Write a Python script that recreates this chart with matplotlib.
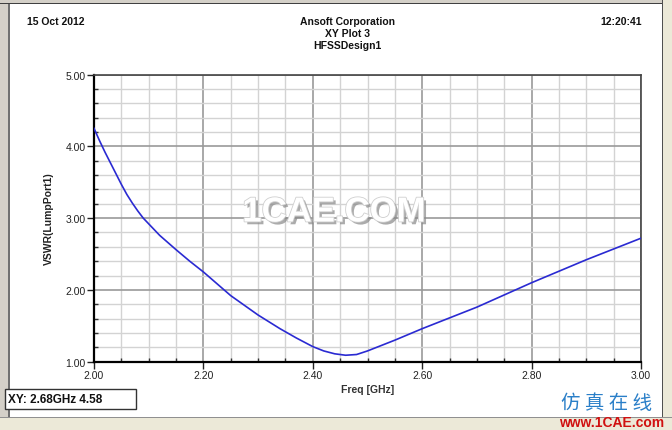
import matplotlib
matplotlib.use("Agg")
import matplotlib.pyplot as plt
from matplotlib.patches import Rectangle
from matplotlib.ticker import MultipleLocator, FormatStrFormatter
import matplotlib.patheffects as pe

plt.rcParams['font.family'] = ['Liberation Sans', 'DejaVu Sans']

freq_ghz = [2.00, 2.01, 2.02, 2.03, 2.04, 2.05, 2.06, 2.07, 2.08, 2.09, 2.10,
            2.12, 2.15, 2.175, 2.20, 2.25, 2.30, 2.34, 2.37, 2.40, 2.42,
            2.44, 2.46, 2.48, 2.50, 2.55, 2.60, 2.65, 2.70,
            2.75, 2.80, 2.85, 2.90, 2.95, 3.00]
vswr = [4.25, 4.08, 3.92, 3.77, 3.62, 3.47, 3.33, 3.21, 3.10, 3.00, 2.92,
        2.76, 2.56, 2.40, 2.25, 1.92, 1.65, 1.46, 1.33, 1.21, 1.15,
        1.11, 1.09, 1.10, 1.15, 1.30, 1.46, 1.61, 1.76,
        1.93, 2.10, 2.26, 2.42, 2.57, 2.72]

W, H = 672, 431
fig = plt.figure(figsize=(W / 100, H / 100), dpi=100)
fig.patch.set_facecolor('white')

def fx(px):
    return px / W

def fy(py):
    return 1 - py / H

# window chrome
fig.patches.append(Rectangle((0, 0), fx(8), 1, transform=fig.transFigure,
                             facecolor='#d4d0c8', edgecolor='none', zorder=0))
fig.patches.append(Rectangle((fx(8), 0), fx(1.5), 1, transform=fig.transFigure,
                             facecolor='#707070', edgecolor='none', zorder=0))
fig.patches.append(Rectangle((0, fy(5)), 1, fy(0) - fy(5), transform=fig.transFigure,
                             facecolor='#d4d0c8', edgecolor='none', zorder=0))
fig.patches.append(Rectangle((0, fy(5)), 1, fx(1.5), transform=fig.transFigure,
                             facecolor='#404040', edgecolor='none', zorder=0))
fig.patches.append(Rectangle((fx(663), 0), 1, 1, transform=fig.transFigure,
                             facecolor='#ece9d8', edgecolor='none', zorder=0))
fig.patches.append(Rectangle((fx(662), 0), fx(1.2), 1, transform=fig.transFigure,
                             facecolor='#505050', edgecolor='none', zorder=0))
fig.patches.append(Rectangle((0, 0), 1, fy(419), transform=fig.transFigure,
                             facecolor='#ece9d8', edgecolor='none', zorder=0))
fig.patches.append(Rectangle((0, fy(419)), 1, fx(1) * W / H, transform=fig.transFigure,
                             facecolor='#909090', edgecolor='none', zorder=0))

ax = fig.add_axes([fx(94), fy(362.7), fx(641) - fx(94), fy(75.5) - fy(362.7)])
ax.set_xlim(2.0, 3.0)
ax.set_ylim(1.0, 5.0)

ax.xaxis.set_major_locator(MultipleLocator(0.2))
ax.xaxis.set_minor_locator(MultipleLocator(0.05))
ax.yaxis.set_major_locator(MultipleLocator(1.0))
ax.yaxis.set_minor_locator(MultipleLocator(0.2))
ax.xaxis.set_major_formatter(FormatStrFormatter('%.2f'))
ax.yaxis.set_major_formatter(FormatStrFormatter('%.2f'))

ax.grid(which='minor', color='#d3d3d3', linewidth=1.0)
ax.grid(which='major', color='#9a9a9a', linewidth=1.2)
ax.set_axisbelow(True)

ax.tick_params(which='major', direction='out', length=5, width=1, labelsize=7.5,
               pad=1, colors='#222222')
ax.tick_params(which='minor', direction='in', length=3, width=1, color='#333333')

for s in ['left', 'bottom']:
    ax.spines[s].set_color('black')
    ax.spines[s].set_linewidth(1.6)
for s in ['top', 'right']:
    ax.spines[s].set_color('#444444')
    ax.spines[s].set_linewidth(1.2)

ax.plot(freq_ghz, vswr, color='#2a2ad2', linewidth=1.2, zorder=3)

ax.set_xlabel('Freq [GHz]', fontsize=7.5, fontweight='bold', color='#333333', labelpad=3)
ax.set_ylabel('VSWR(LumpPort1)', fontsize=7.5, fontweight='bold', color='#222222', labelpad=8)

# watermark
fig.text(fx(334), fy(213), '1CAE.COM', fontsize=25, fontweight='bold', color='white',
         ha='center', va='center', zorder=5,
         path_effects=[pe.withSimplePatchShadow(offset=(2, -2), shadow_rgbFace='#888888', alpha=0.7),
                       pe.Stroke(linewidth=1.2, foreground='#cfcfcf'), pe.Normal()])

# header texts
fig.text(fx(27), fy(22), '15 Oct 2012', fontsize=7.5, fontweight='bold', color='#111111',
         ha='left', va='center')
fig.text(fx(642), fy(22), '12:20:41', fontsize=7.5, fontweight='bold', color='#111111',
         ha='right', va='center')
fig.text(fx(347), fy(22), 'Ansoft Corporation', fontsize=7.5, fontweight='bold',
         color='#111111', ha='center', va='center')
fig.text(fx(347), fy(34), 'XY Plot 3', fontsize=7.5, fontweight='bold',
         color='#111111', ha='center', va='center')
fig.text(fx(347), fy(46), 'HFSSDesign1', fontsize=7.5, fontweight='bold',
         color='#111111', ha='center', va='center')

# marker box
fig.patches.append(Rectangle((fx(5), fy(410)), fx(136) - fx(5), fy(390) - fy(410),
                             transform=fig.transFigure, facecolor='white',
                             edgecolor='#333333', linewidth=1.0, zorder=4))
fig.text(fx(8), fy(400.5), 'XY: 2.68GHz 4.58', fontsize=8.5, fontweight='bold',
         color='#111111', ha='left', va='center', zorder=5)

# site watermark bottom right
fig.text(fx(607), fy(404), '仿 真 在 线', fontsize=14, color='#2a7fc8',
         ha='center', va='center', zorder=6,
         family=['Noto Sans CJK SC', 'DejaVu Sans'])
fig.text(fx(612), fy(423), 'www.1CAE.com', fontsize=10, fontweight='bold',
         color='#d01010', ha='center', va='center', zorder=6)

fig.savefig('out.png', dpi=100)
